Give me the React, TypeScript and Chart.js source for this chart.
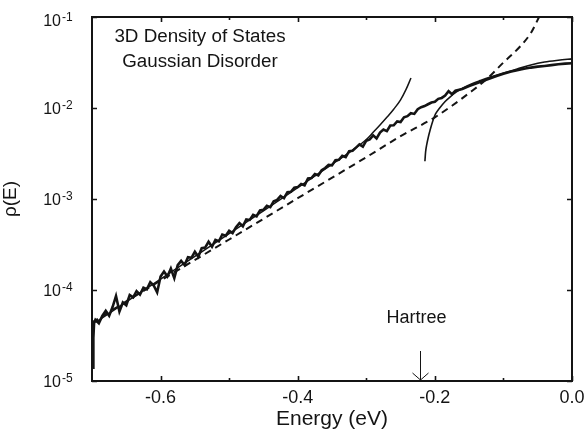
import { useEffect, useRef } from "react";
import { Chart, registerables } from "chart.js";

Chart.register(...registerables);

// Simulated density of states (noisy thick curve)
const simEnergy = [
  -0.6985, -0.698, -0.697, -0.695, -0.69, -0.685, -0.68, -0.675, -0.67, -0.665,
  -0.66, -0.655, -0.65, -0.645, -0.64, -0.635, -0.63, -0.625, -0.62, -0.615,
  -0.61, -0.605, -0.6, -0.595, -0.59, -0.585, -0.58, -0.575, -0.57, -0.565,
  -0.56, -0.555, -0.55, -0.545, -0.54, -0.535, -0.53, -0.525, -0.52, -0.515,
  -0.51, -0.505, -0.5, -0.495, -0.49, -0.485, -0.48, -0.475, -0.47, -0.465,
  -0.46, -0.455, -0.45, -0.445, -0.44, -0.435, -0.43, -0.425, -0.42, -0.415,
  -0.41, -0.405, -0.4, -0.395, -0.39, -0.385, -0.38, -0.375, -0.37, -0.365,
  -0.36, -0.355, -0.35, -0.345, -0.34, -0.335, -0.33, -0.325, -0.32, -0.315,
  -0.31, -0.305, -0.3, -0.295, -0.29, -0.285, -0.28, -0.275, -0.27, -0.265,
  -0.26, -0.255, -0.25, -0.245, -0.24, -0.235, -0.23, -0.225, -0.22, -0.215,
  -0.21, -0.205, -0.2, -0.195, -0.19, -0.185, -0.18, -0.175, -0.17, -0.16,
  -0.15, -0.14, -0.13, -0.12, -0.11, -0.1, -0.09, -0.08, -0.07, -0.06,
  -0.05, -0.04, -0.03, -0.02, -0.01, 0.0,
];
const simDos = [
  1.4e-5, 3.0e-5, 4.3e-5, 4.7e-5, 4.3e-5, 5.2e-5, 5.9e-5, 5.2e-5, 6.5e-5, 8.6e-5,
  5.8e-5, 7.3e-5, 6.8e-5, 8.8e-5, 8.3e-5, 9.7e-5, 8.9e-5, 1.06e-4, 1.02e-4, 1.22e-4,
  1.12e-4, 9.4e-5, 1.41e-4, 1.6e-4, 1.41e-4, 1.72e-4, 1.35e-4, 1.88e-4, 2.09e-4, 1.88e-4,
  2.29e-4, 2.26e-4, 2.63e-4, 2.32e-4, 2.88e-4, 2.92e-4, 3.39e-4, 2.99e-4, 3.55e-4, 3.43e-4,
  4.07e-4, 3.94e-4, 4.47e-4, 4.22e-4, 4.9e-4, 5.43e-4, 5.01e-4, 5.96e-4, 5.89e-4, 6.68e-4,
  6.46e-4, 7.5e-4, 7.59e-4, 8.41e-4, 8.13e-4, 9.44e-4, 9.77e-4, 1.08e-3, 1.02e-3, 1.19e-3,
  1.2e-3, 1.33e-3, 1.35e-3, 1.46e-3, 1.41e-3, 1.68e-3, 1.7e-3, 1.88e-3, 1.82e-3, 2.07e-3,
  2.19e-3, 2.37e-3, 2.34e-3, 2.66e-3, 2.69e-3, 2.99e-3, 2.88e-3, 3.35e-3, 3.39e-3, 3.67e-3,
  3.98e-3, 3.76e-3, 4.37e-3, 4.52e-3, 5.01e-3, 4.62e-3, 5.37e-3, 5.79e-3, 5.56e-3, 6.42e-3,
  6.46e-3, 7.12e-3, 7.0e-3, 7.9e-3, 8.13e-3, 8.76e-3, 8.61e-3, 9.72e-3, 1.02e-2, 1.05e-2,
  1.1e-2, 1.15e-2, 1.17e-2, 1.26e-2, 1.29e-2, 1.37e-2, 1.53e-2, 1.42e-2, 1.55e-2, 1.62e-2,
  1.74e-2, 1.86e-2, 1.98e-2, 2.11e-2, 2.25e-2, 2.38e-2, 2.5e-2, 2.6e-2, 2.7e-2, 2.78e-2,
  2.85e-2, 2.9e-2, 2.96e-2, 3.02e-2, 3.07e-2, 3.1e-2,
];

// Low-energy (tail) asymptotic curve
const tailEnergy = [
  -0.695, -0.65, -0.6, -0.55, -0.5, -0.45, -0.4, -0.35, -0.32, -0.3,
  -0.29, -0.28, -0.27, -0.26, -0.25, -0.242, -0.2348,
];
const tailDos = [
  4.4e-5, 7.4e-5, 1.32e-4, 2.34e-4, 4.17e-4, 7.4e-4, 1.33e-3, 2.4e-3, 3.45e-3, 4.5e-3,
  5.4e-3, 6.5e-3, 7.9e-3, 9.7e-3, 1.23e-2, 1.6e-2, 2.14e-2,
];

// High-energy (band) curve
const bandEnergy = [
  -0.2145, -0.2135, -0.212, -0.2095, -0.207, -0.203, -0.199, -0.193, -0.185, -0.178,
  -0.168, -0.159, -0.145, -0.134, -0.12, -0.1, -0.08, -0.06, -0.04, -0.02, 0.0,
];
const bandDos = [
  2.6e-3, 3.3e-3, 3.9e-3, 4.8e-3, 5.7e-3, 7.2e-3, 8.6e-3, 1.0e-2, 1.18e-2, 1.32e-2,
  1.51e-2, 1.66e-2, 1.86e-2, 2.0e-2, 2.18e-2, 2.42e-2, 2.68e-2, 2.97e-2, 3.2e-2, 3.35e-2, 3.47e-2,
];

// Dashed curve
const dashEnergy = [
  -0.7, -0.6, -0.5, -0.4, -0.3, -0.25, -0.2, -0.175, -0.15, -0.125,
  -0.1, -0.075, -0.06, -0.048,
];
const dashDos = [
  4.4e-5, 1.27e-4, 3.59e-4, 1.02e-3, 2.88e-3, 4.9e-3, 7.9e-3, 1.06e-2, 1.46e-2, 2.06e-2,
  3.16e-2, 4.8e-2, 6.67e-2, 1.0e-1,
];

const xMin = -0.7;
const xMax = 0.0;
const yMin = 1e-5;
const yMax = 1e-1;
const xMajorTicks = [-0.6, -0.4, -0.2, 0.0];
const xTickLabels = ["-0.6", "-0.4", "-0.2", "0.0"];
const xMinorTicks = [-0.5, -0.3, -0.1];
const yTicks = [1e-5, 1e-4, 1e-3, 1e-2, 1e-1];
const yTickExponents = ["-5", "-4", "-3", "-2", "-1"];
const hartreeEnergy = -0.221;
const titleLines = ["3D Density of States", "Gaussian Disorder"];
const xTitle = "Energy (eV)";
const yTitle = "\u03C1(E)";
const hartreeLabel = "Hartree";

const INK = "#141414";
const FONT = "'Liberation Sans', Arial, Helvetica, sans-serif";

const decor = {
  id: "decor",
  afterDraw(chart: any) {
    const { ctx, chartArea: a, scales } = chart;
    const xs = scales.x;
    const ys = scales.y;
    ctx.save();
    ctx.strokeStyle = INK;
    ctx.fillStyle = INK;

    // frame
    ctx.lineWidth = 2;
    ctx.strokeRect(a.left, a.top, a.right - a.left, a.bottom - a.top);

    // inward ticks
    ctx.lineWidth = 1.6;
    ctx.beginPath();
    xMajorTicks.forEach((v) => {
      const px = Math.round(xs.getPixelForValue(v)) + 0.5;
      ctx.moveTo(px, a.bottom);
      ctx.lineTo(px, a.bottom - 5);
      ctx.moveTo(px, a.top);
      ctx.lineTo(px, a.top + 5);
    });
    xMinorTicks.forEach((v) => {
      const px = Math.round(xs.getPixelForValue(v)) + 0.5;
      ctx.moveTo(px, a.bottom);
      ctx.lineTo(px, a.bottom - 3);
      ctx.moveTo(px, a.top);
      ctx.lineTo(px, a.top + 3);
    });
    yTicks.forEach((v) => {
      const py = Math.round(ys.getPixelForValue(v)) + 0.5;
      ctx.moveTo(a.left, py);
      ctx.lineTo(a.left + 5, py);
      ctx.moveTo(a.right, py);
      ctx.lineTo(a.right - 5, py);
    });
    ctx.stroke();

    // x tick labels
    ctx.font = `18px ${FONT}`;
    ctx.textAlign = "center";
    ctx.textBaseline = "alphabetic";
    xMajorTicks.forEach((v, i) => {
      ctx.fillText(xTickLabels[i], xs.getPixelForValue(v), a.bottom + 22);
    });

    // y tick labels: 10 with superscript exponent
    yTicks.forEach((v, i) => {
      const py = ys.getPixelForValue(v);
      const shift = v === yMax ? 3 : 0;
      ctx.font = `16px ${FONT}`;
      ctx.textAlign = "right";
      ctx.fillText("10", a.left - 31, py + 6 + shift);
      ctx.font = `12px ${FONT}`;
      ctx.textAlign = "left";
      ctx.fillText(yTickExponents[i], a.left - 30, py + 0.5 + shift);
    });

    // axis titles
    ctx.font = `21px ${FONT}`;
    ctx.textAlign = "center";
    ctx.fillText(xTitle, (a.left + a.right) / 2, a.bottom + 44);
    ctx.save();
    ctx.translate(16, (a.top + a.bottom) / 2);
    ctx.rotate(-Math.PI / 2);
    ctx.font = `19px ${FONT}`;
    ctx.textAlign = "center";
    ctx.textBaseline = "alphabetic";
    ctx.fillText(yTitle, 0, 0);
    ctx.restore();

    // title text inside plot
    ctx.font = `18.8px ${FONT}`;
    ctx.textAlign = "center";
    ctx.fillText(titleLines[0], 200, 41.5);
    ctx.fillText(titleLines[1], 200, 66.5);

    // Hartree marker
    const hx = Math.round(xs.getPixelForValue(hartreeEnergy)) + 0.5;
    ctx.font = `18px ${FONT}`;
    ctx.fillText(hartreeLabel, hx - 4, a.bottom - 58);
    ctx.lineWidth = 1;
    ctx.beginPath();
    ctx.moveTo(hx, a.bottom - 30);
    ctx.lineTo(hx, a.bottom - 1);
    ctx.moveTo(hx - 8, a.bottom - 8);
    ctx.lineTo(hx, a.bottom - 1);
    ctx.lineTo(hx + 8, a.bottom - 8);
    ctx.stroke();

    ctx.restore();
  },
};

export default function App() {
  const ref = useRef<HTMLCanvasElement>(null);

  useEffect(() => {
    const canvas = ref.current;
    if (!canvas) return;
    const pts = (xs: number[], ys: number[]) => xs.map((x, i) => ({ x, y: ys[i] }));
    const chart = new Chart(canvas, {
      type: "line",
      data: {
        datasets: [
          {
            label: "Dashed",
            data: pts(dashEnergy, dashDos),
            borderColor: INK,
            borderWidth: 2,
            borderDash: [7, 5],
            pointRadius: 0,
            cubicInterpolationMode: "monotone",
            fill: false,
          },
          {
            label: "Tail",
            data: pts(tailEnergy, tailDos),
            borderColor: INK,
            borderWidth: 1.5,
            pointRadius: 0,
            cubicInterpolationMode: "monotone",
            fill: false,
          },
          {
            label: "Band",
            data: pts(bandEnergy, bandDos),
            borderColor: INK,
            borderWidth: 1.6,
            pointRadius: 0,
            cubicInterpolationMode: "monotone",
            fill: false,
          },
          {
            label: "Simulation",
            data: pts(simEnergy, simDos),
            borderColor: INK,
            borderWidth: 2.6,
            pointRadius: 0,
            tension: 0,
            fill: false,
          },
        ],
      },
      options: {
        responsive: false,
        animation: false,
        events: [],
        layout: { padding: { left: 92, right: 15, top: 17, bottom: 55 } },
        plugins: {
          legend: { display: false },
          tooltip: { enabled: false },
          title: { display: false },
        },
        scales: {
          x: { type: "linear", min: xMin, max: xMax, display: false },
          y: { type: "logarithmic", min: yMin, max: yMax, display: false },
        },
      },
      plugins: [decor],
    });
    return () => chart.destroy();
  }, []);

  return (
    <div style={{ position: "absolute", left: 0, top: 0, width: 587, height: 436, background: "#fff" }}>
      <canvas ref={ref} width={587} height={436} style={{ display: "block", width: 587, height: 436 }} />
    </div>
  );
}
